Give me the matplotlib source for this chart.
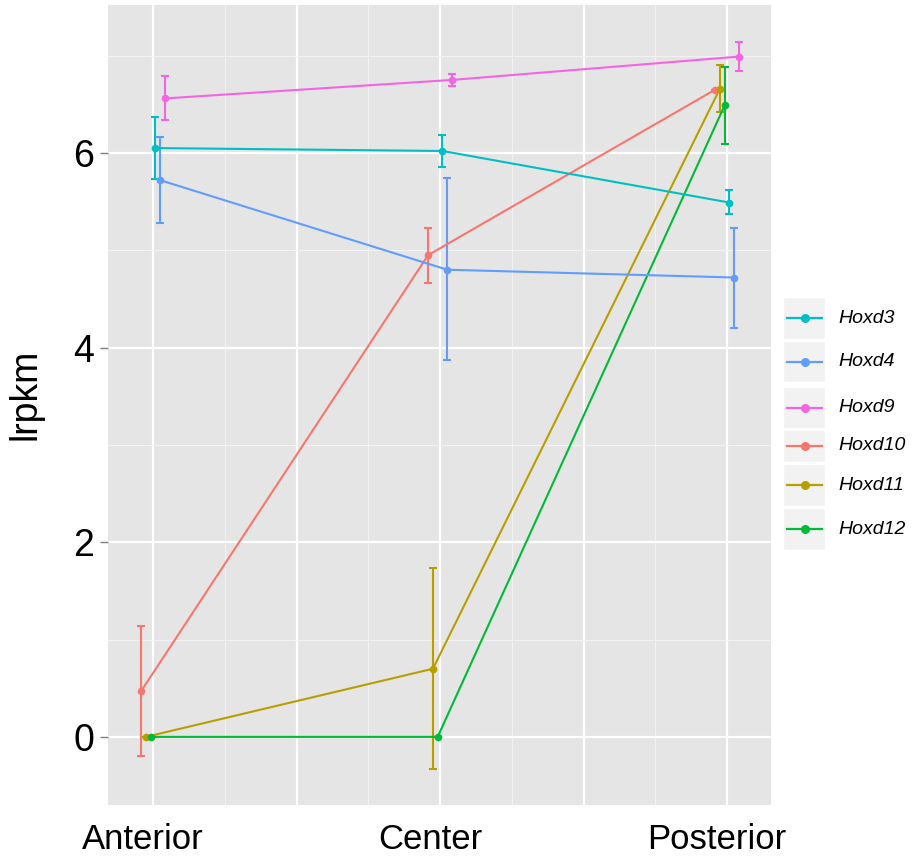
import matplotlib
matplotlib.use("Agg")
import matplotlib.pyplot as plt
import matplotlib.transforms as mtransforms
from matplotlib.patches import Rectangle
from matplotlib.lines import Line2D
import numpy as np

plt.rcParams['font.family'] = ['Liberation Sans', 'DejaVu Sans']

regions = ["Anterior", "Center", "Posterior"]
genes_plot_order = ["Hoxd10", "Hoxd11", "Hoxd12", "Hoxd3", "Hoxd4", "Hoxd9"]
legend_order = ["Hoxd3", "Hoxd4", "Hoxd9", "Hoxd10", "Hoxd11", "Hoxd12"]

hoxd3 = [6.05, 6.02, 5.49]
hoxd3_lo = [5.73, 5.86, 5.37]
hoxd3_hi = [6.37, 6.185, 5.62]

hoxd4 = [5.72, 4.80, 4.72]
hoxd4_lo = [5.28, 3.87, 4.20]
hoxd4_hi = [6.16, 5.74, 5.23]

hoxd9 = [6.56, 6.75, 6.99]
hoxd9_lo = [6.34, 6.69, 6.84]
hoxd9_hi = [6.79, 6.81, 7.14]

hoxd10 = [0.47, 4.95, 6.65]
hoxd10_lo = [-0.195, 4.66, 6.65]
hoxd10_hi = [1.14, 5.23, 6.65]

hoxd11 = [0.0, 0.70, 6.66]
hoxd11_lo = [0.0, -0.33, 6.42]
hoxd11_hi = [0.0, 1.74, 6.90]

hoxd12 = [0.0, 0.0, 6.49]
hoxd12_lo = [0.0, 0.0, 6.09]
hoxd12_hi = [0.0, 0.0, 6.88]

data = {
    "Hoxd3": (hoxd3, hoxd3_lo, hoxd3_hi),
    "Hoxd4": (hoxd4, hoxd4_lo, hoxd4_hi),
    "Hoxd9": (hoxd9, hoxd9_lo, hoxd9_hi),
    "Hoxd10": (hoxd10, hoxd10_lo, hoxd10_hi),
    "Hoxd11": (hoxd11, hoxd11_lo, hoxd11_hi),
    "Hoxd12": (hoxd12, hoxd12_lo, hoxd12_hi),
}
colors = {
    "Hoxd10": "#F8766D", "Hoxd11": "#B79F00", "Hoxd12": "#00BA38",
    "Hoxd3": "#00BFC4", "Hoxd4": "#619CFF", "Hoxd9": "#F564E3",
}

W, H = 913, 861
fig = plt.figure(figsize=(W / 100, H / 100), dpi=100)
fig.patch.set_facecolor("white")

def fx(x):
    return x / W

def fy(y):
    return 1 - y / H

ax = fig.add_axes([fx(108), fy(805), (771 - 108) / W, (805 - 5) / H])
ax.set_facecolor("#E5E5E5")
for s in ax.spines.values():
    s.set_visible(False)

xbase = np.arange(1, len(regions) + 1)
ax.set_xlim(0.843, 3.153)
ax.set_ylim(-0.70, 7.52)

ax.set_xticks([1, 1.5, 2, 2.5, 3])
ax.set_xticks([1.25, 1.75, 2.25, 2.75], minor=True)
ax.set_yticks([0, 2, 4, 6])
ax.set_yticks([1, 3, 5, 7], minor=True)
ax.grid(which="major", color="white", linewidth=1.6)
ax.grid(which="minor", color="#F2F2F2", linewidth=0.8)
ax.set_axisbelow(True)

ax.set_xticklabels([regions[0], "", regions[1], "", regions[2]], fontsize=25)
ax.tick_params(axis="x", which="both", length=0, pad=13)
ax.tick_params(axis="y", which="major", length=5.8, width=1.0, color="#7F7F7F",
               labelsize=27, pad=4)
ax.tick_params(axis="y", which="minor", length=0)
offset = mtransforms.ScaledTranslation(-10 / 100, 0, fig.dpi_scale_trans)
for lab in ax.get_xticklabels():
    lab.set_transform(lab.get_transform() + offset)

ax.set_ylabel("lrpkm", fontsize=27)
ax.yaxis.set_label_coords((44 - 108) / 663, (805 - 394) / 800)

n = len(genes_plot_order)
dodge = 0.1
for k, g in enumerate(genes_plot_order):
    m, lo, hi = data[g]
    xs = xbase + (k - (n - 1) / 2) * dodge / n
    m = np.array(m); lo = np.array(lo); hi = np.array(hi)
    ax.errorbar(xs, m, yerr=[m - lo, hi - m], fmt="none", ecolor=colors[g],
                elinewidth=1.5, capsize=3.2, capthick=1.5, zorder=2)
for k, g in enumerate(genes_plot_order):
    m, lo, hi = data[g]
    xs = xbase + (k - (n - 1) / 2) * dodge / n
    ax.plot(xs, m, color=colors[g], linewidth=1.5, zorder=3)
for k, g in enumerate(genes_plot_order):
    m, lo, hi = data[g]
    xs = xbase + (k - (n - 1) / 2) * dodge / n
    ax.plot(xs, m, "o", color=colors[g], markersize=5.5, zorder=4,
            markeredgewidth=0)

# legend (drawn manually to match key layout)
key_boxes = [(297, 339), (341, 382), (387, 428), (430, 462), (464, 506), (508, 550)]
for g, (y0, y1) in zip(legend_order, key_boxes):
    fig.patches.append(Rectangle((fx(783), fy(y1)), (825 - 783) / W, (y1 - y0) / H,
                                 transform=fig.transFigure, facecolor="#F2F2F2",
                                 edgecolor="white", linewidth=1.0))
    yc = (y0 + y1) / 2
    fig.lines.append(Line2D([fx(787), fx(822)], [fy(yc), fy(yc)],
                            transform=fig.transFigure, color=colors[g], linewidth=1.6))
    fig.lines.append(Line2D([fx(804.5)], [fy(yc)], transform=fig.transFigure,
                            marker="o", markersize=6.5, markeredgewidth=0,
                            color=colors[g]))
    fig.text(fx(838), fy(yc), g, fontsize=14, style="italic",
             va="center", ha="left", color="black")

fig.savefig("out.png", dpi=100, facecolor="white")
